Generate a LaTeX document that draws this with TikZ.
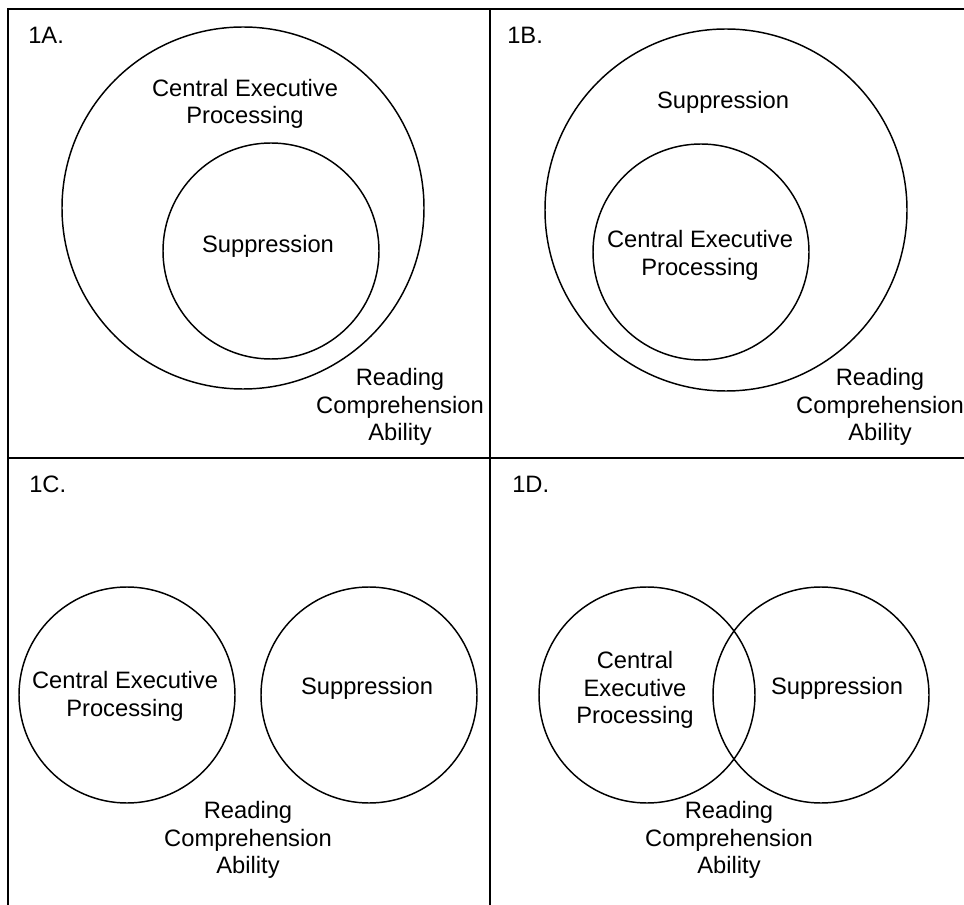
\documentclass[tikz,border=0pt]{standalone}
\usepackage{fontspec}
\setmainfont{Liberation Sans}
\begin{document}
\begin{tikzpicture}[x=0.75pt, y=-0.75pt,
  every node/.style={font=\fontsize{17.8pt}{20.8pt}\selectfont, align=center},
  frame/.style={line width=1.9pt},
  set/.style={circle, draw, line width=1.1pt, inner sep=0pt}]
\useasboundingbox (0,0) rectangle (964,905);
% panel frame
\draw[frame] (8,905) -- (8,9) -- (964,9);
\draw[frame] (490,9) -- (490,905);
\draw[frame] (8,458) -- (964,458);
% panel labels
\foreach \name/\x/\y in {1A/28/35, 1B/507/35, 1C/29/484, 1D/512/484} {
  \node[anchor=west, inner sep=0pt] (label \name) at (\x, \y) {\name.};
}

% 1A
\node[set, minimum size=271.5pt] (outer a) at (243, 208) {};
\node[set, minimum size=162pt] (inner a) at (271, 251) {};
\node (ce a) at (245, 104) {Central Executive\\Processing};
\node (sup a) at (268, 246) {Suppression};
\node (rc a) at (400, 407) {Reading\\Comprehension\\Ability};

% 1B
\node[set, minimum size=271.5pt] (outer b) at (726, 210) {};
\node[set, minimum size=162pt] (inner b) at (701, 252) {};
\node (sup b) at (723, 102) {Suppression};
\node (ce b) at (700, 255) {Central Executive\\Processing};
\node (rc b) at (880, 407) {Reading\\Comprehension\\Ability};

% 1C
\node[set, minimum size=162pt] (ce circle c) at (127, 695) {};
\node[set, minimum size=162pt] (sup circle c) at (369, 695) {};
\node (ce c) at (125, 696) {Central Executive\\Processing};
\node (sup c) at (367, 688) {Suppression};
\node (rc c) at (248, 840) {Reading\\Comprehension\\Ability};

% 1D
\node[set, minimum size=162pt] (ce circle d) at (647, 695) {};
\node[set, minimum size=162pt] (sup circle d) at (821, 695) {};
\node (ce d) at (635, 690) {Central\\Executive\\Processing};
\node (sup d) at (837, 688) {Suppression};
\node (rc d) at (729, 840) {Reading\\Comprehension\\Ability};
\end{tikzpicture}
\end{document}
